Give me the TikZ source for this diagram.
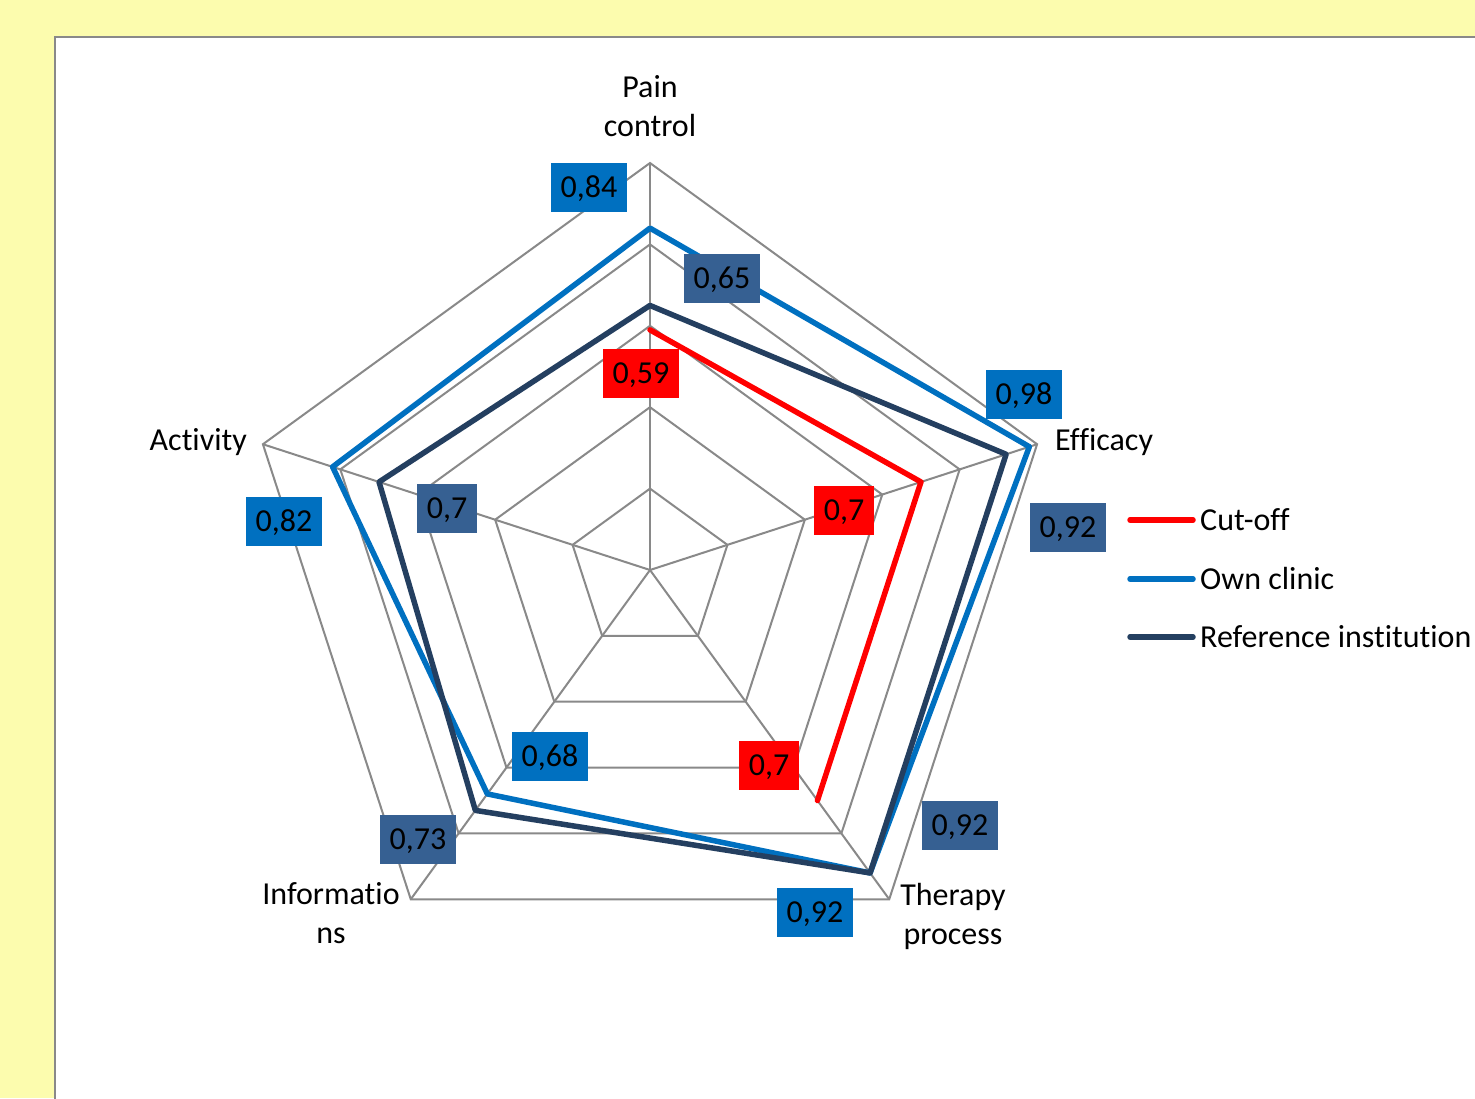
\documentclass[tikz,border=0pt]{standalone}
\usepackage{fontspec}
\setmainfont[Ligatures=CommonOff]{Carlito}
\definecolor{bgyellow}{HTML}{FCFCAE}
\definecolor{gridgray}{HTML}{898989}
\definecolor{ownblue}{HTML}{0070C0}
\definecolor{refnavy}{HTML}{243F60}
\definecolor{reflabel}{HTML}{366092}
\definecolor{cutred}{HTML}{FF0000}
\begin{document}
\begin{tikzpicture}[x=1pt,y=-1pt,
  gridline/.style={draw=gridgray, line width=2pt},
  series/.style={line width=5.5pt, line join=round, line cap=round},
  val/.style={inner xsep=10pt, inner ysep=0pt, minimum height=49pt, text height=20pt, text depth=0pt, font=\fontsize{32}{39}\selectfont, text=black},
  cat/.style={font=\fontsize{32}{39}\selectfont, align=center, inner sep=0pt},
  catone/.style={font=\fontsize{32}{39}\selectfont, inner sep=0pt, text height=20pt, text depth=0pt},
]
\useasboundingbox (0,0) rectangle (1475,1098);
\fill[bgyellow] (0,0) rectangle (1475,1098);
\fill[white] (55,37) rectangle (1480,1105);
\draw[gridgray, line width=2.5pt] (55,1105) -- (55,37) -- (1480,37);

\begin{scope}[shift={(650,570)}]
  \coordinate (C) at (0,0);
  % axis vertices
  \coordinate (vP) at (-90:407);
  \coordinate (vE) at (-18:407);
  \coordinate (vT) at (54:407);
  \coordinate (vI) at (126:407);
  \coordinate (vA) at (198:407);
  % rings
  \foreach \r in {81.4,162.8,244.2,325.6,407}{
    \draw[gridline] (-90:\r) -- (-18:\r) -- (54:\r) -- (126:\r) -- (198:\r) -- cycle;
  }
  \foreach \v in {vP,vE,vT,vI,vA}{ \draw[gridline] (C) -- (\v); }

  % cut-off
  \coordinate (cP) at (-90:240.13);
  \coordinate (cE) at (-18:284.9);
  \coordinate (cT) at (54:284.9);
  % own clinic
  \coordinate (oP) at (-90:341.88);
  \coordinate (oE) at (-18:398.86);
  \coordinate (oT) at (54:374.44);
  \coordinate (oI) at (126:276.76);
  \coordinate (oA) at (198:333.74);
  % reference
  \coordinate (rP) at (-90:264.55);
  \coordinate (rE) at (-18:374.44);
  \coordinate (rT) at (54:374.44);
  \coordinate (rI) at (126:297.11);
  \coordinate (rA) at (198:284.9);
\end{scope}

\draw[series, cutred] (cP) -- (cE) -- (cT);
\draw[series, ownblue] (oP) -- (oE) -- (oT) -- (oI) -- (oA) -- cycle;
\draw[series, refnavy] (rP) -- (rE) -- (rT) -- (rI) -- (rA) -- cycle;

% category labels
\node[cat, anchor=north] (lP) at (650,75) {Pain\\control};
\node[catone, anchor=west] (lE) at (1055,440) {Efficacy};
\node[cat, anchor=north] (lT) at (953,883) {Therapy\\process};
\node[cat, anchor=north] (lI) at (331,882) {Informatio\\ns};
\node[catone, anchor=east] (lA) at (247,440) {Activity};

% value labels
\node[val, fill=ownblue] (bP) at (589,187) {0,84};
\node[val, fill=ownblue] (bE) at (1024,394) {0,98};
\node[val, fill=ownblue] (bT) at (815,912) {0,92};
\node[val, fill=ownblue] (bI) at (550,756) {0,68};
\node[val, fill=ownblue] (bA) at (284,521) {0,82};
\node[val, fill=reflabel] (qP) at (722,278) {0,65};
\node[val, fill=reflabel] (qE) at (1068,527) {0,92};
\node[val, fill=reflabel] (qT) at (960,825) {0,92};
\node[val, fill=reflabel] (qI) at (418,839) {0,73};
\node[val, fill=reflabel] (qA) at (447,508) {0,7};
\node[val, fill=cutred] (kP) at (641,373) {0,59};
\node[val, fill=cutred] (kE) at (844,510) {0,7};
\node[val, fill=cutred] (kT) at (769,765) {0,7};

% legend
\coordinate (g1a) at (1130,520); \coordinate (g1b) at (1193,520);
\coordinate (g2a) at (1130,579); \coordinate (g2b) at (1193,579);
\coordinate (g3a) at (1130,637); \coordinate (g3b) at (1193,637);
\draw[series, cutred] (g1a) -- (g1b);
\draw[series, ownblue] (g2a) -- (g2b);
\draw[series, refnavy] (g3a) -- (g3b);
\node[catone, anchor=west] (t1) at (1200,520) {Cut-off};
\node[catone, anchor=west] (t2) at (1200,579) {Own clinic};
\node[catone, anchor=west] (t3) at (1200,637) {Reference institution};
\end{tikzpicture}
\end{document}
